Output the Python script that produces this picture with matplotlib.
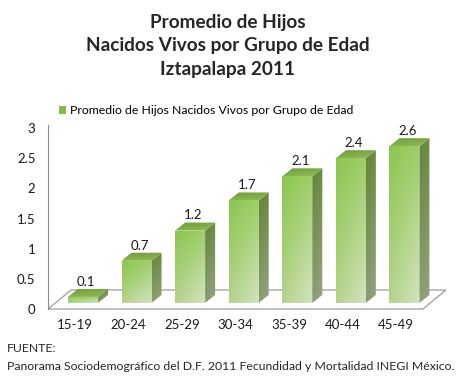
import numpy as np
import matplotlib
matplotlib.use("Agg")
import matplotlib.pyplot as plt
from matplotlib.patches import Polygon, Patch

# datos
grupos = ["15-19", "20-24", "25-29", "30-34", "35-39", "40-44", "45-49"]
promedio = [0.1, 0.7, 1.2, 1.7, 2.1, 2.4, 2.6]
yticks = [0, 0.5, 1, 1.5, 2, 2.5, 3]
ytick_labels = ["0", "0.5", "1", "1.5", "2", "2.5", "3"]

titulo = "Promedio de Hijos\nNacidos Vivos por Grupo de Edad\nIztapalapa 2011"
serie = "Promedio de Hijos Nacidos Vivos por Grupo de Edad"
fuente = "FUENTE:"
fuente2 = "Panorama Sociodemográfico del D.F. 2011 Fecundidad y Mortalidad INEGI México."

plt.rcParams["font.family"] = ["Lato", "DejaVu Sans"]

# profundidad del efecto 3D (unidades de datos)
floor_dx, floor_dy = 0.43, 0.315
bar_off_x, bar_off_y = 0.153, 0.1
bar_dx, bar_dy = 0.187, 0.133
bar_w = 0.56


def gradient(tl, tr, bl, br, n=60):
    tl, tr, bl, br = [np.array(matplotlib.colors.to_rgb(c)) for c in (tl, tr, bl, br)]
    u = np.linspace(0, 1, n)[None, :, None]
    v = np.linspace(0, 1, n)[:, None, None]
    top = tl * (1 - u) + tr * u
    bot = bl * (1 - u) + br * u
    return top * (1 - v) + bot * v


def fill_grad(ax, patch, img, extent):
    ax.add_patch(patch)
    im = ax.imshow(img, extent=extent, aspect="auto", origin="upper",
                   interpolation="bilinear", zorder=patch.get_zorder())
    im.set_clip_path(patch)


fig = plt.figure(figsize=(4.64, 3.82), dpi=100)
ax = fig.add_axes([48 / 464, (382 - 312) / 382, 404 / 464, 202 / 382])

# piso
n = len(grupos)
piso = Polygon([(-0.5, 0), (n - 0.5, 0), (n - 0.5 + floor_dx, floor_dy),
                (-0.5 + floor_dx, floor_dy)], closed=True,
               facecolor="white", edgecolor="#a6a6a6", lw=1.0, zorder=1)
ax.add_patch(piso)

x = np.arange(n) + bar_off_x
bars = ax.bar(x, promedio, width=bar_w, bottom=bar_off_y,
              color="none", edgecolor="none", zorder=3)

front_img = gradient("#8cc64f", "#9fce68", "#b3d38c", "#d3e4be")
side_img = gradient("#64843a", "#6d8c42", "#8a9c72", "#97a585")
top_img = gradient("#6f9a3c", "#7aa545", "#86b34c", "#8fb955")

for b, v in zip(bars, promedio):
    x0 = b.get_x()
    x1 = x0 + b.get_width()
    y0 = bar_off_y
    y1 = bar_off_y + v
    fb = Polygon([(x0, y0), (x1, y0), (x1, y1), (x0, y1)], closed=True,
                 facecolor="none", edgecolor="none", zorder=3)
    fill_grad(ax, fb, front_img, (x0, x1, y0, y1))
    side = Polygon([(x1, y0), (x1 + bar_dx, y0 + bar_dy), (x1 + bar_dx, y1 + bar_dy),
                    (x1, y1)], closed=True, facecolor="none", edgecolor="none", zorder=3)
    fill_grad(ax, side, side_img, (x1, x1 + bar_dx, y0, y1 + bar_dy))
    top = Polygon([(x0, y1), (x1, y1), (x1 + bar_dx, y1 + bar_dy),
                   (x0 + bar_dx, y1 + bar_dy)], closed=True,
                  facecolor="none", edgecolor="none", zorder=3)
    fill_grad(ax, top, top_img, (x0, x1 + bar_dx, y1, y1 + bar_dy))
    ax.text((x0 + x1) / 2 + bar_dx / 3, y1 + bar_dy + 0.02, f"{v:g}",
            ha="center", va="bottom", fontsize=9.5, color="#1a1a1a", zorder=5)

ax.set_xlim(-0.5, -0.5 + 404 / 53.57)
ax.set_ylim(-0.05, 3.3)
ax.set_yticks(yticks)
ax.set_yticklabels(ytick_labels)
ax.set_xticks([])
for i, g in enumerate(grupos):
    ax.text(i, -0.27, g, ha="center", va="center", fontsize=9.5, color="#1a1a1a")

for s in ["top", "right", "bottom"]:
    ax.spines[s].set_visible(False)
ax.spines["left"].set_bounds(0, 3.05)
ax.spines["left"].set_color("#8c8c8c")
ax.tick_params(axis="y", length=0, pad=9, labelsize=9.5, labelcolor="#1a1a1a")

ax.legend(handles=[Patch(facecolor="#86bb4c", edgecolor="none")], labels=[serie],
          loc="center left", bbox_to_anchor=(53 / 464, (382 - 111) / 382),
          bbox_transform=fig.transFigure, frameon=False, fontsize=8.8,
          handlelength=0.6, handleheight=0.6, handletextpad=0.3, borderpad=0)

fig.text(0.49, (382 - 46) / 382, titulo, ha="center", va="center",
         fontsize=13.7, fontweight="bold", color="#262626", linespacing=1.45)
fig.text(7 / 464, (382 - 348) / 382, fuente, ha="left", va="center",
         fontsize=8.8, color="#262626")
fig.text(7 / 464, (382 - 366) / 382, fuente2, ha="left", va="center",
         fontsize=8.8, color="#262626")

fig.savefig("out.png", dpi=100)
